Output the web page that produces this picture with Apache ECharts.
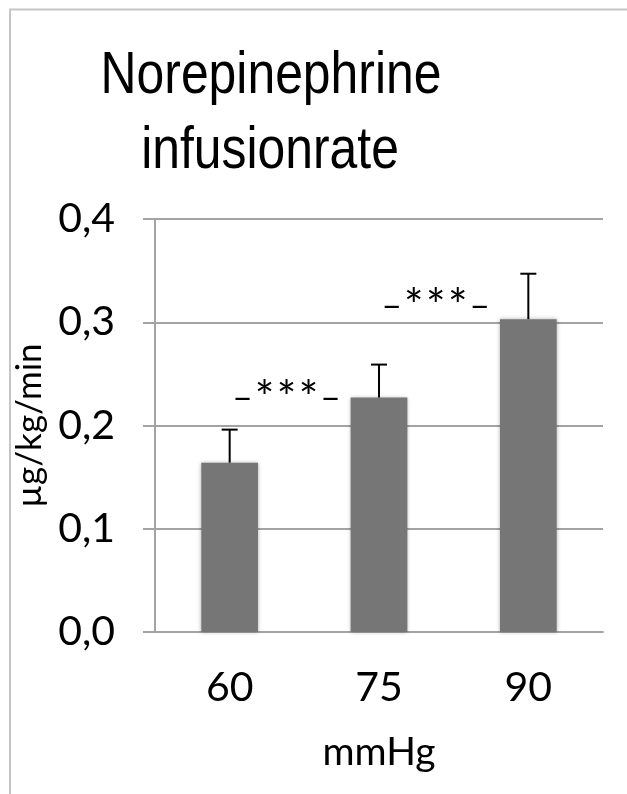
<!DOCTYPE html>
<html>
<head>
<meta charset="utf-8">
<style>
  html, body { margin: 0; padding: 0; background: #ffffff; overflow: hidden; }
  #chart { width: 627px; height: 794px; }
</style>
<script src="https://cdn.jsdelivr.net/npm/echarts@6/dist/echarts.min.js"></script>
</head>
<body>
<div id="chart"></div>
<script>
// Pressure levels (mmHg) and mean norepinephrine infusion rate with SD
const categories = ['60', '75', '90'];
const means = [0.164, 0.227, 0.303];
const errors = [0.032, 0.032, 0.044];

// Significance markers between neighbouring groups: [left category index, height]
const sigText = ['_', '*', '*', '*', '_'];
const sigMarks = [[0, 0.235], [1, 0.324]];

const yMin = 0, yMax = 0.4, yStep = 0.1;

const labelFont = 'Lato';
const gridColor = '#a3a3a3';
const frameColor = '#c6c6c6';

const chart = echarts.init(document.getElementById('chart'), null, { renderer: 'canvas' });

const errorData = means.map((m, i) => [i, m, m + errors[i]]);

// Condensed title text: Liberation Sans squeezed horizontally
function titleLine(text, x, y) {
  return {
    type: 'text', x: x, y: y, scaleX: 0.845, scaleY: 1,
    style: { text: text, font: '59px "Liberation Sans"', fill: '#000', align: 'center', verticalAlign: 'middle' }
  };
}

chart.setOption({
  animation: false,
  backgroundColor: '#ffffff',
  grid: { left: 155, right: 24, top: 219, bottom: 162, containLabel: false },
  graphic: [
    // chart-area frame: top and left edges
    { type: 'line', shape: { x1: 9, y1: 9.5, x2: 627, y2: 9.5 }, style: { stroke: frameColor, lineWidth: 2 } },
    { type: 'line', shape: { x1: 10, y1: 9, x2: 10, y2: 794 }, style: { stroke: frameColor, lineWidth: 2 } },
    titleLine('Norepinephrine', 271, 77),
    titleLine('infusionrate', 270, 152)
  ],
  xAxis: {
    type: 'category',
    data: categories,
    name: 'mmHg',
    nameLocation: 'middle',
    nameGap: 101,
    nameTextStyle: { fontFamily: labelFont, fontSize: 39, color: '#000' },
    axisLine: { lineStyle: { color: gridColor, width: 2 } },
    axisTick: { length: 13, lineStyle: { color: gridColor, width: 2 } },
    axisLabel: { fontFamily: labelFont, fontSize: 41, color: '#000', margin: 35 },
    splitLine: { show: false }
  },
  yAxis: {
    type: 'value',
    min: yMin, max: yMax, interval: yStep,
    name: 'µg/kg/min',
    nameLocation: 'middle',
    nameGap: 93,
    nameRotate: 90,
    nameTextStyle: { fontFamily: labelFont, fontSize: 35, color: '#000' },
    axisLine: { show: true, lineStyle: { color: gridColor, width: 2 } },
    axisTick: { show: true, length: 12, lineStyle: { color: gridColor, width: 2 } },
    axisLabel: {
      fontFamily: labelFont, fontSize: 41, color: '#000', margin: 40,
      formatter: v => v.toFixed(1).replace('.', ',')
    },
    splitLine: { show: true, lineStyle: { color: gridColor, width: 2 } }
  },
  series: [
    {
      type: 'bar',
      data: means,
      barWidth: '38%',
      itemStyle: {
        color: '#767676',
        shadowBlur: 4,
        shadowColor: 'rgba(0,0,0,0.3)'
      },
      z: 2
    },
    {
      type: 'custom',
      data: errorData,
      z: 3,
      renderItem: (params, api) => {
        const base = api.coord([api.value(0), api.value(1)]);
        const top = api.coord([api.value(0), api.value(2)]);
        const cap = 8;
        const style = { stroke: '#000', lineWidth: 2 };
        return {
          type: 'group',
          children: [
            { type: 'line', shape: { x1: base[0], y1: base[1], x2: top[0], y2: top[1] }, style },
            { type: 'line', shape: { x1: top[0] - cap, y1: top[1], x2: top[0] + cap, y2: top[1] }, style }
          ]
        };
      }
    },
    {
      type: 'custom',
      data: sigMarks,
      z: 4,
      renderItem: (params, api) => {
        const p = api.coord([api.value(0), api.value(1)]);
        const step = api.size([1, 0])[0];
        const cx = p[0] + 0.38 * step;
        const spacing = 22;
        const children = sigText.map((ch, k) => {
          const isStar = ch === '*';
          return {
            type: 'text',
            x: cx + (k - 2) * spacing,
            y: isStar ? p[1] + 10 : p[1] - 6,
            style: {
              text: ch,
              font: (isStar ? '46px ' : '36px ') + labelFont,
              fill: '#000',
              align: 'center',
              verticalAlign: 'middle'
            }
          };
        });
        return { type: 'group', children };
      }
    }
  ]
});
</script>
</body>
</html>
